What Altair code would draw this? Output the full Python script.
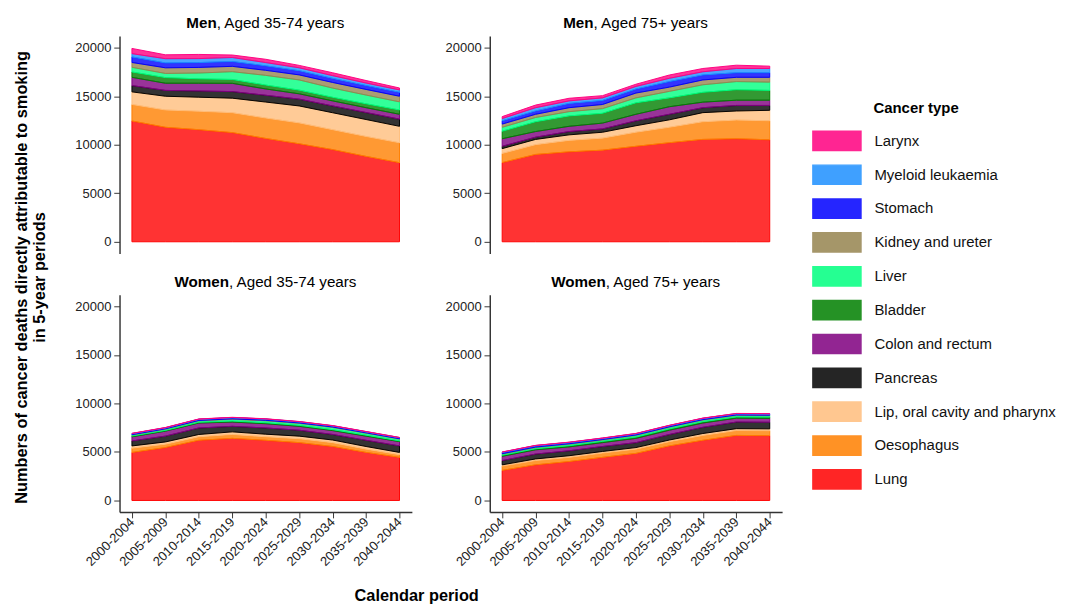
import altair as alt
import pandas as pd

periods = ["2000-2004", "2005-2009", "2010-2014", "2015-2019", "2020-2024",
           "2025-2029", "2030-2034", "2035-2039", "2040-2044"]

# stacking order: bottom -> top
cancers = ["Lung", "Oesophagus", "Lip, oral cavity and pharynx", "Pancreas",
           "Colon and rectum", "Bladder", "Liver", "Kidney and ureter",
           "Stomach", "Myeloid leukaemia", "Larynx"]
colors = ["#ff0000", "#ff7f00", "#ffbe7d", "#000000", "#800080", "#008000",
          "#00ff7f", "#968450", "#0000ff", "#1e90ff", "#ff007f"]

men_35_74 = {
    "Lung":       [12450, 11800, 11550, 11250, 10650, 10100, 9500, 8800, 8150],
    "Oesophagus": [1700, 1780, 1900, 2050, 2100, 2150, 2050, 2050, 2050],
    "Lip, oral cavity and pharynx": [1300, 1420, 1450, 1500, 1650, 1750, 1750, 1750, 1700],
    "Pancreas":   [650, 600, 640, 680, 700, 700, 700, 720, 740],
    "Colon and rectum": [850, 740, 800, 850, 650, 550, 520, 500, 500],
    "Bladder":    [550, 580, 450, 400, 400, 380, 370, 400, 440],
    "Liver":      [480, 430, 600, 800, 1000, 1050, 950, 900, 840],
    "Kidney and ureter": [500, 580, 580, 550, 520, 520, 580, 580, 580],
    "Stomach":    [570, 500, 500, 500, 460, 430, 420, 400, 400],
    "Myeloid leukaemia": [340, 440, 410, 410, 340, 300, 280, 260, 250],
    "Larynx":     [540, 400, 430, 260, 340, 250, 300, 260, 200],
}
men_75 = {
    "Lung":       [8160, 9000, 9270, 9440, 9840, 10210, 10550, 10620, 10510],
    "Oesophagus": [940, 1010, 1180, 1240, 1450, 1590, 1820, 1920, 1960],
    "Lip, oral cavity and pharynx": [500, 540, 570, 610, 670, 770, 940, 940, 1080],
    "Pancreas":   [240, 230, 340, 340, 510, 570, 510, 570, 500],
    "Colon and rectum": [780, 580, 540, 600, 670, 780, 570, 540, 540],
    "Bladder":    [770, 1010, 1070, 1010, 1180, 910, 1010, 1080, 1010],
    "Liver":      [410, 440, 440, 480, 510, 670, 780, 840, 850],
    "Kidney and ureter": [330, 330, 410, 430, 500, 440, 500, 440, 500],
    "Stomach":    [340, 340, 440, 410, 410, 570, 510, 470, 470],
    "Myeloid leukaemia": [230, 340, 260, 270, 270, 340, 330, 440, 440],
    "Larynx":     [200, 270, 270, 230, 230, 340, 340, 340, 240],
}
women_35_74 = {
    "Lung":       [4950, 5450, 6200, 6400, 6200, 5960, 5560, 4950, 4440],
    "Oesophagus": [440, 340, 360, 400, 360, 400, 400, 340, 270],
    "Lip, oral cavity and pharynx": [230, 240, 240, 270, 270, 270, 270, 270, 240],
    "Pancreas":   [510, 600, 670, 570, 640, 610, 570, 640, 670],
    "Colon and rectum": [430, 510, 510, 440, 440, 400, 400, 430, 440],
    "Bladder":    [80, 80, 80, 100, 100, 100, 100, 100, 80],
    "Liver":      [100, 120, 150, 180, 200, 200, 220, 200, 180],
    "Kidney and ureter": [40, 40, 40, 50, 50, 50, 50, 40, 40],
    "Stomach":    [90, 90, 100, 110, 110, 100, 100, 90, 90],
    "Myeloid leukaemia": [30, 30, 30, 30, 30, 30, 30, 30, 30],
    "Larynx":     [20, 20, 20, 20, 20, 20, 20, 20, 20],
}
women_75 = {
    "Lung":       [3100, 3670, 4010, 4440, 4850, 5620, 6200, 6700, 6680],
    "Oesophagus": [440, 440, 430, 440, 440, 440, 500, 500, 500],
    "Lip, oral cavity and pharynx": [130, 170, 170, 170, 160, 170, 200, 200, 200],
    "Pancreas":   [440, 500, 510, 510, 510, 570, 640, 680, 680],
    "Colon and rectum": [440, 440, 400, 400, 440, 440, 440, 400, 400],
    "Bladder":    [110, 110, 130, 130, 140, 140, 140, 130, 130],
    "Liver":      [120, 120, 140, 140, 160, 160, 160, 150, 150],
    "Kidney and ureter": [40, 50, 50, 50, 50, 50, 50, 50, 50],
    "Stomach":    [120, 120, 110, 100, 100, 100, 100, 100, 100],
    "Myeloid leukaemia": [40, 40, 40, 40, 40, 40, 40, 40, 40],
    "Larynx":     [20, 20, 20, 20, 20, 20, 20, 20, 20],
}

FONT = "Liberation Sans"
W, H = 304, 226
legend_order = cancers[::-1]
legend_colors = colors[::-1]

# approximate Arial metrics for splitting bold / regular title parts
BOLD = {"M": 833, "e": 556, "n": 611, "W": 944, "o": 611, "m": 889}
REG = {",": 278, " ": 278, "A": 667, "g": 556, "e": 556, "d": 556, "-": 333,
       "+": 584, "y": 500, "a": 556, "r": 333, "s": 500}


def twidth(s, table, size):
    return sum(table.get(c, 556) for c in s) * size / 1000.0


def long_df(d):
    rows = []
    for i, c in enumerate(cancers):
        for p, v in zip(periods, d[c]):
            rows.append({"period": p, "cancer": c, "value": v, "idx": i})
    return pd.DataFrame(rows)


LEG = dict(title=None, orient="none", legendX=735, legendY=98,
           symbolType="M-2.5,-1L2.5,-1L2.5,1L-2.5,1Z",
           symbolSize=400, symbolStrokeWidth=1.5, symbolOpacity=0.85,
           labelFontSize=15.5, labelFont=FONT, labelColor="#111",
           labelOffset=28, rowPadding=9.2, labelLimit=400)


def panel(d, bold, rest, bottom, extra=None):
    df = long_df(d)
    xaxis = alt.Axis(title=None, labelAngle=315, labelAlign="right",
                     labelBaseline="middle", labelFontSize=13.5, labelFont=FONT,
                     labelColor="#222", tickColor="#333", domainColor="#333",
                     domainWidth=1.5, tickSize=6, labelPadding=2) if bottom else None
    area = alt.Chart(df).mark_area(fillOpacity=0.8, strokeWidth=1).encode(
        x=alt.X("period:O", sort=periods,
                scale=alt.Scale(type="point", padding=0.37), axis=xaxis),
        y=alt.Y("value:Q", stack="zero",
                scale=alt.Scale(domain=[-1200, 21200], nice=False, zero=False),
                axis=alt.Axis(title=None, values=[0, 5000, 10000, 15000, 20000],
                              format="d", grid=False, labelFontSize=13.5,
                              labelFont=FONT, labelColor="#222",
                              tickColor="#333", labelPadding=3,
                              domainColor="#333", domainWidth=1.5, tickSize=6)),
        color=alt.Color("cancer:N",
                        scale=alt.Scale(domain=legend_order, range=legend_colors),
                        legend=alt.Legend(**LEG)),
        stroke=alt.Stroke("cancer:N",
                          scale=alt.Scale(domain=legend_order, range=legend_colors),
                          legend=alt.Legend(**LEG)),
        order=alt.Order("idx:Q"),
    )
    fs = 15.8
    bw = twidth(bold, BOLD, fs)
    rw = twidth(rest, REG, fs)
    split = W / 2 - (bw + rw) / 2 + bw
    t1 = alt.Chart(pd.DataFrame({"t": [bold]})).mark_text(
        align="right", baseline="middle", fontSize=fs, fontWeight="bold",
        font=FONT, color="#000").encode(text="t:N", x=alt.value(split),
                                         y=alt.value(-13))
    t2 = alt.Chart(pd.DataFrame({"t": [rest]})).mark_text(
        align="left", baseline="middle", fontSize=fs, font=FONT,
        color="#000").encode(text="t:N", x=alt.value(split), y=alt.value(-13))
    layers = [area, t1, t2]
    if extra:
        layers += extra
    return alt.layer(*layers).properties(width=W, height=H)


ytitle = alt.Chart(pd.DataFrame({"t": [
    "Numbers of cancer deaths directly attributable to smoking\nin 5-year periods"]})
).mark_text(angle=270, align="center", baseline="middle", lineBreak="\n",
            fontSize=17, fontWeight="bold", font=FONT, color="#000",
            lineHeight=18).encode(text="t:N", x=alt.value(-101), y=alt.value(251))

xtitle = alt.Chart(pd.DataFrame({"t": ["Calendar period"]})).mark_text(
    align="center", baseline="middle", fontSize=17, fontWeight="bold",
    font=FONT, color="#000").encode(text="t:N", x=alt.value(309), y=alt.value(313))

legtitle = alt.Chart(pd.DataFrame({"t": ["Cancer type"]})).mark_text(
    align="left", baseline="middle", fontSize=15.5, fontWeight="bold",
    font=FONT, color="#000").encode(text="t:N", x=alt.value(399), y=alt.value(75))

tl = panel(men_35_74, "Men", ", Aged 35-74 years", False, [ytitle])
tr = panel(men_75, "Men", ", Aged 75+ years", False, [legtitle])
bl = panel(women_35_74, "Women", ", Aged 35-74 years", True, [xtitle])
br = panel(women_75, "Women", ", Aged 75+ years", True)

chart = alt.concat(tl, tr, bl, br, columns=2,
                   spacing={"row": 43, "column": 81}, bounds="flush").properties(
    background="white",
    padding={"left": 5, "top": -4, "right": 5, "bottom": 5},
).configure_view(strokeWidth=0)

chart.save("out.html", embed_options={"renderer": "svg", "actions": False})
